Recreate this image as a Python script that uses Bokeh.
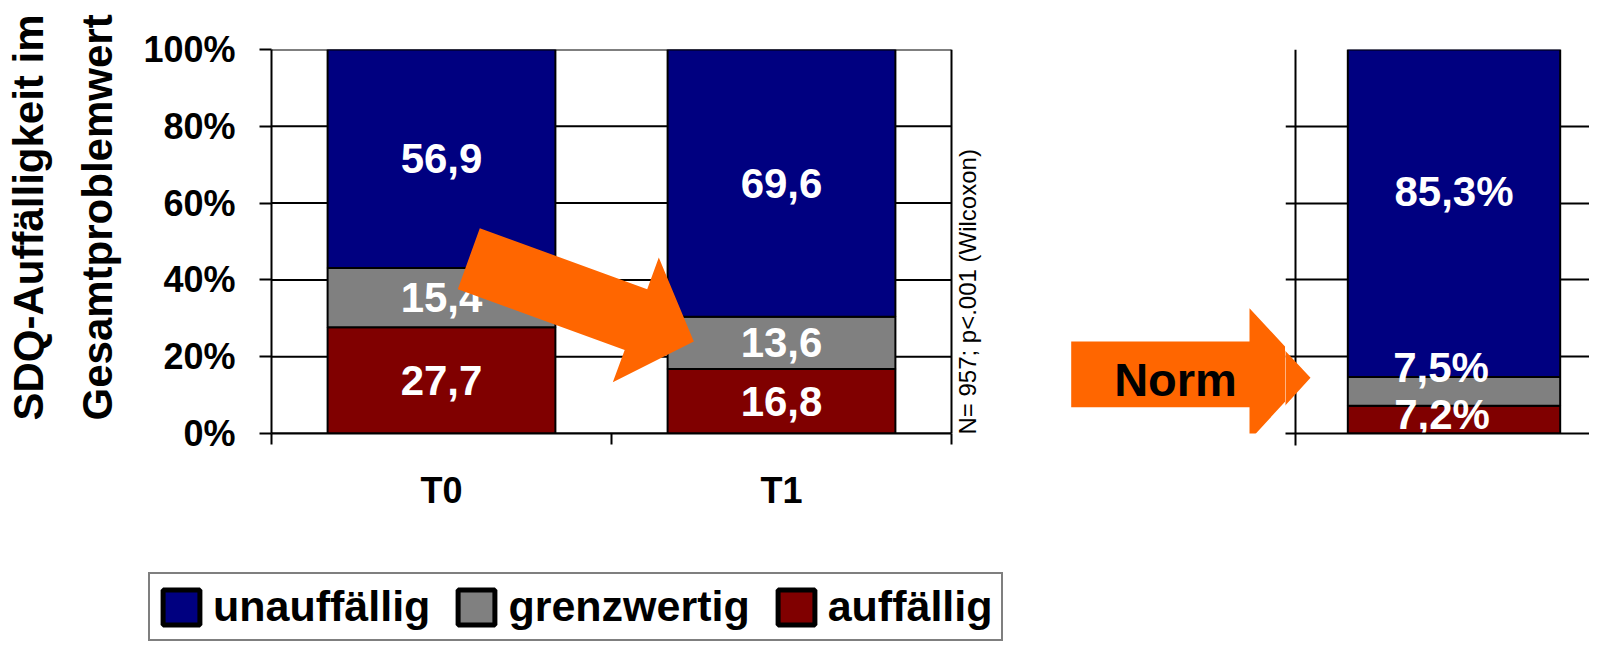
from bokeh.plotting import figure
from bokeh.models import (Range1d, LinearAxis, FixedTicker, PrintfTickFormatter, Legend,
                          LegendItem, Label, PolyAnnotation, ColumnDataSource, Grid, Span, Title)
from bokeh.layouts import row, column
from bokeh.embed import file_html
from bokeh.resources import INLINE
from bokeh.core.properties import value

# ---------------- data ----------------
categories = ["T0", "T1"]
unauffaellig = [56.9, 69.6]
grenzwertig = [15.4, 13.6]
auffaellig = [27.7, 16.8]

norm_categories = ["Norm"]
norm_unauffaellig = [85.3]
norm_grenzwertig = [7.5]
norm_auffaellig = [7.2]

y_ticks = [0, 20, 40, 60, 80, 100]
legend_labels = ["unauffällig", "grenzwertig", "auffällig"]
y_title_lines = ["SDQ-Auffälligkeit im", "Gesamtproblemwert"]
stat_note = "N= 957; p<.001  (Wilcoxon)"
norm_text = "Norm"

# ---------------- style ----------------
FONT = "Liberation Sans"
C_BLUE, C_GRAY, C_RED = "#000080", "#808080", "#800000"
COLOR_OF = {"unauffällig": C_BLUE, "grenzwertig": C_GRAY, "auffällig": C_RED}
SERIES_OF = {"unauffällig": unauffaellig, "grenzwertig": grenzwertig, "auffällig": auffaellig}
ORANGE = "#FF6600"
BAR_W = 0.67
CAT_PX = 340.0       # pixel width of one category slot


def fmt(v, pct=False):
    return f"{v:.1f}".replace(".", ",") + ("%" if pct else "")


def hide_default_grids(p):
    p.xgrid.visible = False
    p.ygrid.visible = False


TOTAL_W, TOTAL_H = 1589, 642
TOP_H = 555

# ================= left chart (frame spans 271..1285 px) =================
cx = list(range(len(categories)))
edges = [i - 0.5 for i in cx] + [cx[-1] + 0.5]
L_W = 1285
FL, FT, FB = 271, 49, 437
L = figure(width=L_W, height=TOP_H, title=None,
           x_range=Range1d(-0.5, -0.5 + (L_W - FL) / CAT_PX),
           y_range=Range1d(0, 100), x_axis_location=None,
           toolbar_location=None, output_backend="svg",
           min_border=0, min_border_left=FL, min_border_right=0,
           min_border_top=FT, min_border_bottom=TOP_H - FB)
L.outline_line_color = None
hide_default_grids(L)

# grid lines and right border restricted to the category slots
L.segment(x0=edges[0], x1=edges[-1], y0=y_ticks, y1=y_ticks, line_color="black", line_width=2)
L.segment(x0=edges[-1], x1=edges[-1], y0=y_ticks[0], y1=y_ticks[-1], line_color="black", line_width=2)

src = ColumnDataSource(dict(x=cx, auff=auffaellig, grenz=grenzwertig, unauff=unauffaellig))
L.vbar_stack(["auff", "grenz", "unauff"], x="x", width=BAR_W, source=src,
             fill_color=[C_RED, C_GRAY, C_BLUE], line_color="black", line_width=2)

lx, ly, lt = [], [], []
for i in cx:
    base = 0.0
    for vals in (auffaellig, grenzwertig, unauffaellig):
        v = vals[i]
        lx.append(i); ly.append(base + v / 2); lt.append(fmt(v))
        base += v
L.text(x=lx, y=ly, text=lt, text_color="white", text_font=value(FONT),
       text_font_style="bold", text_font_size="42px", text_align="center",
       text_baseline="middle")

# y axis
ya = L.yaxis[0]
ya.ticker = FixedTicker(ticks=y_ticks)
ya.formatter = PrintfTickFormatter(format="%d%%")
ya.major_label_text_font = FONT
ya.major_label_text_font_style = "bold"
ya.major_label_text_font_size = "36px"
ya.major_label_text_color = "black"
ya.major_tick_out = 12
ya.major_tick_in = 0
ya.minor_tick_line_color = None
ya.major_label_standoff = 24
ya.axis_line_width = 2
ya.major_tick_line_width = 2

# y title: two rotated lines (inner line added first)
for txt, so in zip(reversed(y_title_lines), (40, 0)):
    L.add_layout(Title(text=txt, align="left", offset=13, standoff=so,
                       text_font=FONT, text_font_style="bold", text_font_size="42px",
                       text_color="black"), "left")

# x axis: labels at category centres, ticks at category boundaries
cat_axis = LinearAxis(ticker=FixedTicker(ticks=cx, minor_ticks=edges),
                      bounds=(edges[0], edges[-1]),
                      major_label_overrides={i: c for i, c in zip(cx, categories)},
                      axis_line_color="black", axis_line_width=2,
                      major_tick_line_color=None, major_tick_out=0, major_tick_in=0,
                      minor_tick_line_color="black", minor_tick_line_width=2,
                      minor_tick_out=11, minor_tick_in=0,
                      major_label_text_font=FONT, major_label_text_font_style="bold",
                      major_label_text_font_size="36px", major_label_text_color="black",
                      major_label_standoff=25)
L.add_layout(cat_axis, "below")

# stat note
L.add_layout(Label(x=967 - FL, y=FB - 292, x_units="screen", y_units="screen",
                   text=stat_note, angle=90, angle_units="deg", text_align="center",
                   text_baseline="alphabetic", text_font=FONT, text_font_size="24px",
                   text_color="black"))

# orange diagonal arrow
arrow_pts = [(479.3, 231.7), (646.7, 292.7), (658.3, 261), (693.3, 345),
             (612.3, 385.7), (624.2, 353.5), (457.3, 292.7)]
L.add_layout(PolyAnnotation(xs=[p[0] - FL for p in arrow_pts], ys=[FB - p[1] for p in arrow_pts],
                            xs_units="screen", ys_units="screen", fill_color=ORANGE,
                            fill_alpha=1, line_color=None))

# Norm arrow (left part)
norm_pts = [(1070.7, 345), (1249, 345), (1249, 311.7), (1310, 377.3),
            (1249, 444), (1249, 410.7), (1070.7, 410.7)]
L.add_layout(PolyAnnotation(xs=[p[0] - FL for p in norm_pts], ys=[FB - p[1] for p in norm_pts],
                            xs_units="screen", ys_units="screen", fill_color=ORANGE,
                            fill_alpha=1, line_color=None))
L.add_layout(Label(x=1175 - FL, y=FB - 383, x_units="screen", y_units="screen",
                   text=norm_text, text_align="center", text_baseline="alphabetic",
                   text_font=FONT, text_font_style="bold", text_font_size="47px",
                   text_color="black"))

# ================= right chart (Norm) =================
RL, RT, RB = 1285, 45, 433
R_W = TOTAL_W - L_W
NCAT_PX = 317.0
nx = list(range(len(norm_categories)))
r_edges = [i - 0.5 for i in nx] + [nx[-1] + 0.5]
r_start = r_edges[0] - (1295 - RL) / NCAT_PX
R = figure(width=R_W, height=TOP_H, title=None,
           x_range=Range1d(r_start, r_start + R_W / NCAT_PX), y_range=Range1d(0, 100),
           x_axis_location=None, y_axis_location=None,
           toolbar_location=None, output_backend="svg",
           min_border=0, min_border_left=0, min_border_right=0,
           min_border_top=RT, min_border_bottom=TOP_H - RB)
R.outline_line_color = None
hide_default_grids(R)
R.add_layout(Grid(dimension=1, ticker=FixedTicker(ticks=y_ticks),
                  grid_line_color="black", grid_line_width=2))

nsrc = ColumnDataSource(dict(x=nx, auff=norm_auffaellig, grenz=norm_grenzwertig, unauff=norm_unauffaellig))
R.vbar_stack(["auff", "grenz", "unauff"], x="x", width=BAR_W, source=nsrc,
             fill_color=[C_RED, C_GRAY, C_BLUE], line_color="black", line_width=2)

nlx, nly, nlt = [], [], []
for i in nx:
    base = 0.0
    for vals in (norm_auffaellig, norm_grenzwertig, norm_unauffaellig):
        v = vals[i]
        nlx.append(i); nly.append(base + v / 2); nlt.append(fmt(v, pct=True))
        base += v
R.text(x=nlx, y=nly, text=nlt, x_offset=[-12, -13, 0], y_offset=[-5, -24, -22],
       text_color="white", text_font=value(FONT), text_font_style="bold",
       text_font_size="42px", text_align="center", text_baseline="middle")

r_axis = LinearAxis(ticker=FixedTicker(ticks=[], minor_ticks=r_edges),
                    axis_line_color="black", axis_line_width=2,
                    major_tick_line_color=None, major_tick_out=0, major_tick_in=0,
                    minor_tick_line_color="black", minor_tick_line_width=2,
                    minor_tick_out=12, minor_tick_in=0)
R.add_layout(r_axis, "below")
R.add_layout(Span(location=r_edges[0], dimension="height", line_color="black", line_width=2))

R.add_layout(PolyAnnotation(xs=[p[0] - RL for p in norm_pts], ys=[RB - p[1] for p in norm_pts],
                            xs_units="screen", ys_units="screen", fill_color=ORANGE,
                            fill_alpha=1, line_color=None))

# ================= legend strip =================
LG_H = TOTAL_H - TOP_H
LG = figure(width=TOTAL_W, height=LG_H, title=None, x_range=Range1d(0, 1), y_range=Range1d(0, 1),
            x_axis_location=None, y_axis_location=None, toolbar_location=None,
            output_backend="svg", min_border=0)
LG.outline_line_color = None
hide_default_grids(LG)
key_renderers = {n: LG.vbar(x=cx, top=SERIES_OF[n], width=BAR_W, fill_color=COLOR_OF[n],
                            line_color="black", line_width=5, visible=False)
                 for n in legend_labels}
legend = Legend(items=[LegendItem(label=n, renderers=[key_renderers[n]]) for n in legend_labels],
                orientation="horizontal", location=(148, 1),
                glyph_width=46, glyph_height=44, label_standoff=9, spacing=23,
                padding=8, margin=0, border_line_color="black", border_line_width=2,
                background_fill_color="white", background_fill_alpha=1,
                inactive_fill_alpha=0,
                label_text_font=FONT, label_text_font_style="bold",
                label_text_font_size="43px", label_text_color="black")
LG.add_layout(legend, "center")

layout = column(row(L, R, spacing=0), LG, spacing=0)
open("out.html", "w").write(file_html(layout, INLINE))
